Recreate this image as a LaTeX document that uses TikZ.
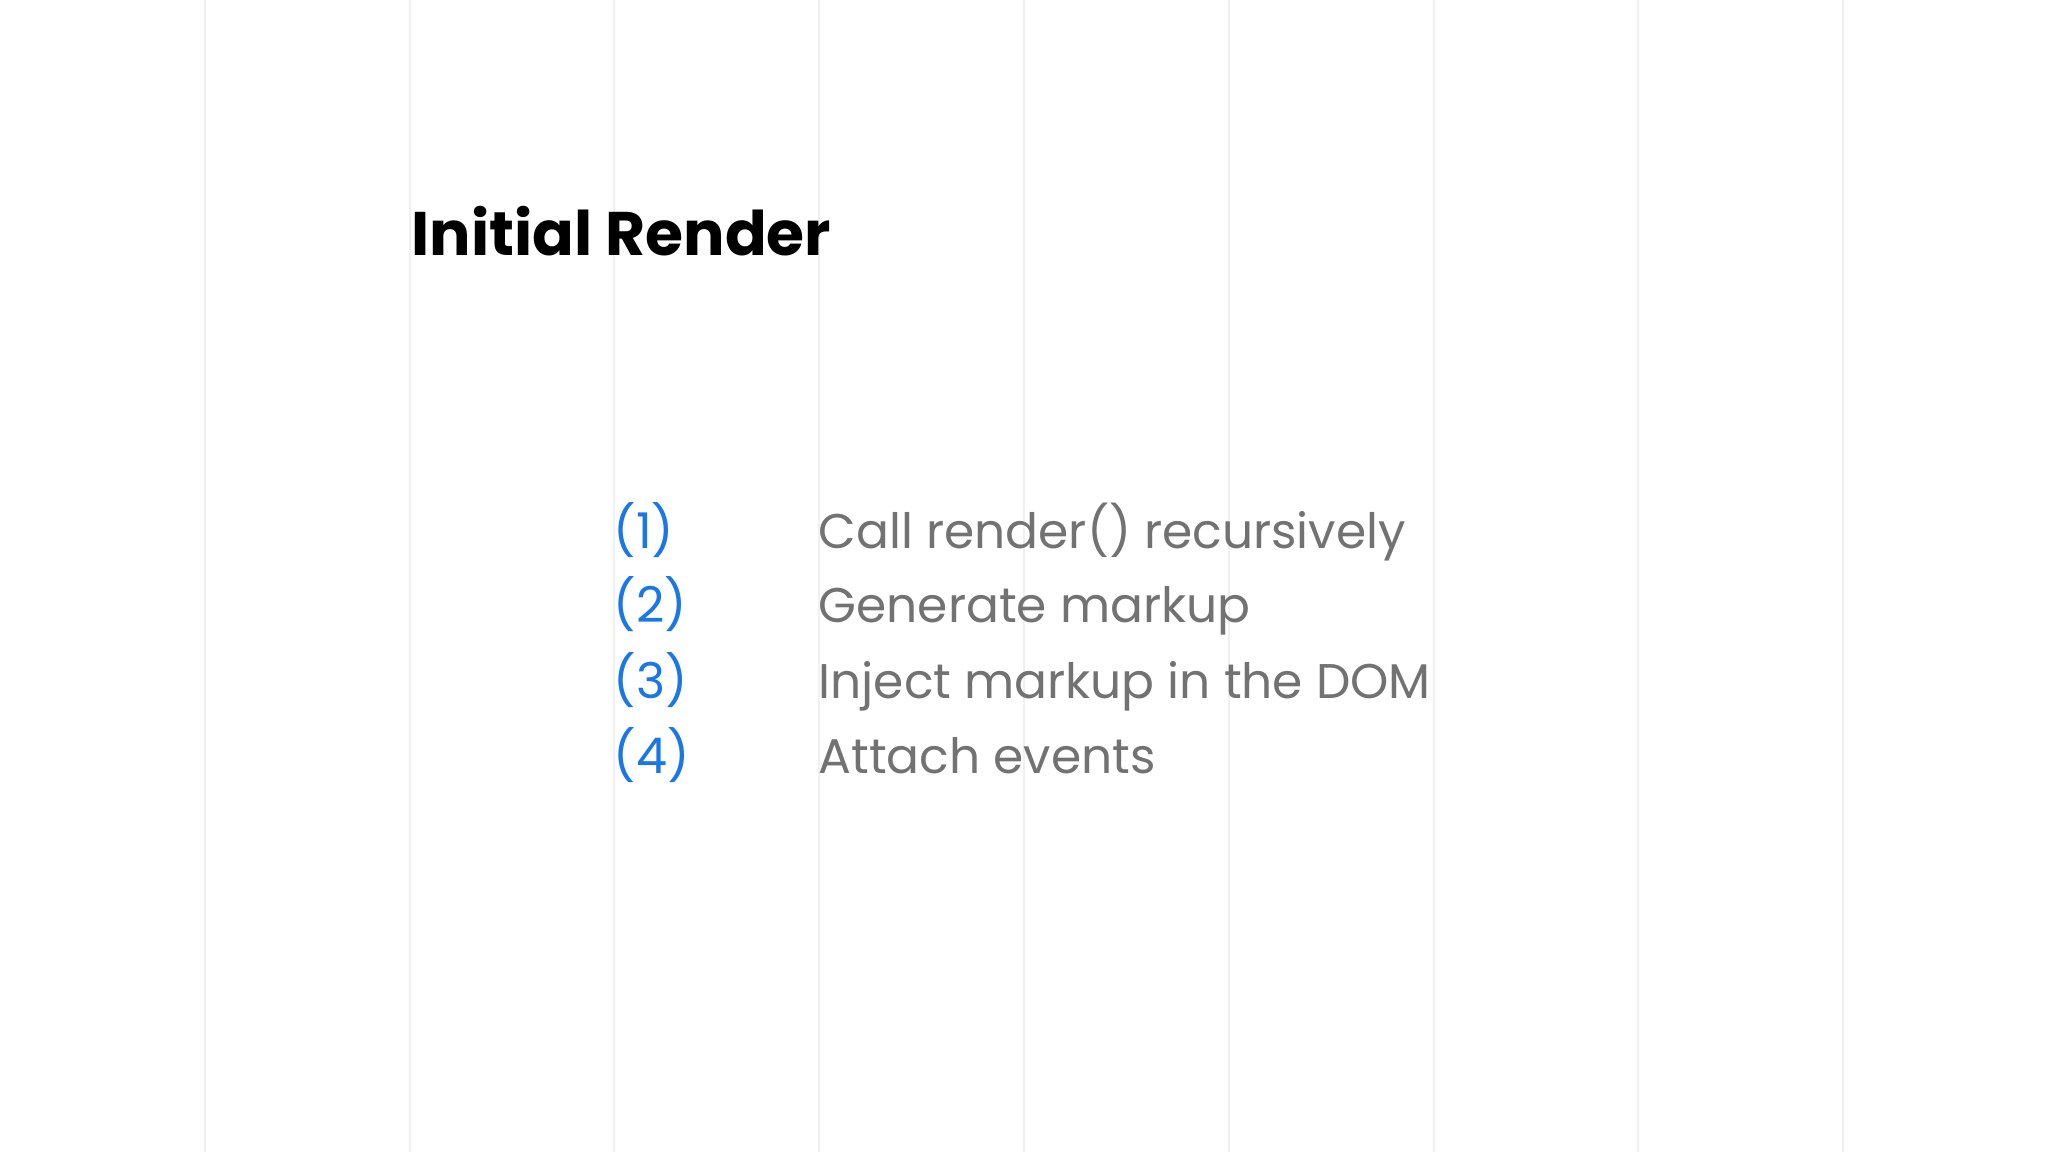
\documentclass[tikz,border=0pt]{standalone}
\usepackage{fontspec}
\setmainfont{Poppins}
\definecolor{gridgray}{HTML}{F0F0F0}
\definecolor{stepblue}{HTML}{1A77E6}
\definecolor{textgray}{HTML}{727272}
\begin{document}
\begin{tikzpicture}[x=0.01cm,y=-0.01cm,
    numlabel/.style={anchor=base west,inner sep=0pt,text=stepblue,font=\fontsize{14}{16}\selectfont},
    steplabel/.style={anchor=base west,inner sep=0pt,text=textgray,font=\fontsize{13.85}{16}\selectfont}]
    \useasboundingbox (0,0) rectangle (2048,1152);
    \fill[white] (0,0) rectangle (2048,1152);
    % faint column lines
    \foreach \i in {1,...,9}
        \draw[gridgray,line width=0.02cm] (204.8*\i,0) -- (204.8*\i,1152);
    \node[anchor=base west,inner sep=0pt,font=\bfseries\fontsize{17.5}{21}\selectfont] (title) at (411,256) {Initial Render};
    \foreach \n/\txt [count=\k] in {1/Call render() recursively,2/Generate markup,3/Inject markup in the DOM,4/Attach events}{
        \node[numlabel] (num\k) at (613,{548+75*(\k-1)}) {(\n)};
        \node[steplabel] (step\k) at (818,{548+75*(\k-1)}) {\txt};
    }
\end{tikzpicture}
\end{document}
